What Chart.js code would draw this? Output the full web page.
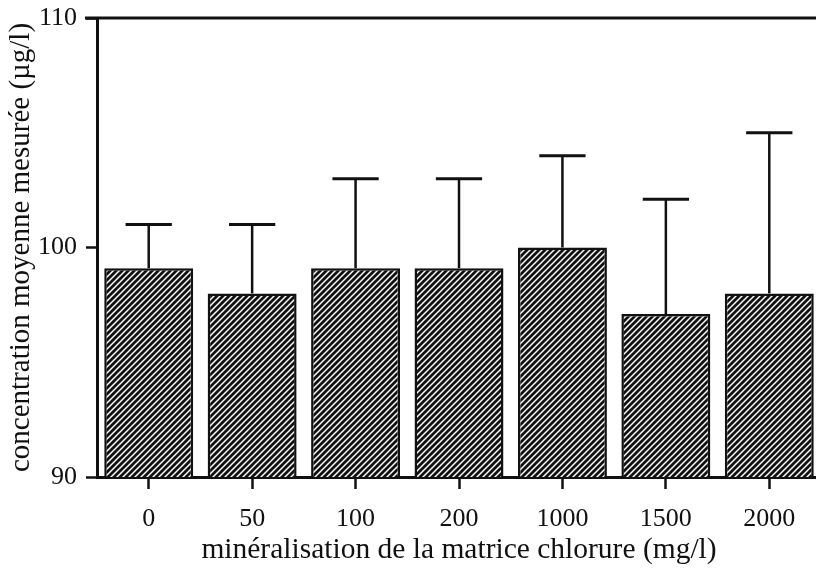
<!DOCTYPE html>
<html>
<head>
<meta charset="utf-8">
<script src="https://cdn.jsdelivr.net/npm/chart.js@4/dist/chart.umd.min.js"></script>
<style>
  html, body { margin: 0; padding: 0; background: #fff; overflow: hidden; }
  #wrap { width: 821px; height: 568px; }
</style>
</head>
<body>
<div id="wrap"><canvas id="myChart"></canvas></div>
<script>
// chloride matrix levels (mg/l)
const labels = ['0', '50', '100', '200', '1000', '1500', '2000'];
// mean measured concentration (µg/l)
const means = [99.1, 98.0, 99.1, 99.1, 100.0, 97.1, 98.0];
// upper error bar length
const errors = [1.9, 3.0, 3.9, 3.9, 4.0, 5.0, 7.0];
const yTicks = [90, 100, 110];

const INK = '#111';
const FONT = 'Liberation Serif';

function hatch(ctx) {
  const s = 6;
  const c = document.createElement('canvas');
  c.width = s; c.height = s;
  const g = c.getContext('2d');
  g.fillStyle = INK;
  g.fillRect(0, 0, s, s);
  g.strokeStyle = '#fff';
  g.lineWidth = 1.5;
  g.beginPath();
  g.moveTo(0, s); g.lineTo(s, 0);
  g.moveTo(-1, 1); g.lineTo(1, -1);
  g.moveTo(s - 1, s + 1); g.lineTo(s + 1, s - 1);
  g.stroke();
  return ctx.createPattern(c, 'repeat');
}

// one-sided (upward) error bars
const errorBars = {
  id: 'errorBars',
  afterDatasetsDraw(chart) {
    const ctx = chart.ctx;
    const y = chart.scales.y;
    const meta = chart.getDatasetMeta(0);
    ctx.save();
    ctx.strokeStyle = INK;
    meta.data.forEach((bar, i) => {
      const top = y.getPixelForValue(means[i] + errors[i]);
      const half = bar.width * 0.26;
      ctx.lineWidth = 2.5;
      ctx.beginPath();
      ctx.moveTo(bar.x, bar.y);
      ctx.lineTo(bar.x, top);
      ctx.stroke();
      ctx.lineWidth = 3;
      ctx.beginPath();
      ctx.moveTo(bar.x - half, top);
      ctx.lineTo(bar.x + half, top);
      ctx.stroke();
    });
    ctx.restore();
  }
};

// top frame line at the max of the y axis
const topLine = {
  id: 'topLine',
  afterDraw(chart) {
    const ctx = chart.ctx;
    const area = chart.chartArea;
    const py = chart.scales.y.getPixelForValue(yTicks[yTicks.length - 1]);
    ctx.save();
    ctx.strokeStyle = INK;
    ctx.lineWidth = 3;
    ctx.beginPath();
    ctx.moveTo(area.left - 12, py);
    ctx.lineTo(area.right, py);
    ctx.stroke();
    ctx.restore();
  }
};

const ctx = document.getElementById('myChart').getContext('2d');
new Chart(ctx, {
  type: 'bar',
  data: {
    labels: labels,
    datasets: [{
      data: means,
      backgroundColor: hatch(ctx),
      borderColor: INK,
      borderWidth: 2.5,
      barPercentage: 0.86,
      categoryPercentage: 1.0
    }]
  },
  options: {
    responsive: true,
    maintainAspectRatio: false,
    animation: false,
    layout: { padding: { top: 18, right: 0, bottom: 0, left: 0 } },
    plugins: { legend: { display: false }, tooltip: { enabled: false } },
    scales: {
      x: {
        grid: { display: true, drawOnChartArea: false, offset: false, tickLength: 12, tickWidth: 2.5, tickColor: INK },
        border: { display: true, color: INK, width: 3 },
        ticks: { color: INK, font: { family: FONT, size: 26 }, padding: 15, maxRotation: 0 },
        title: {
          display: true,
          text: 'minéralisation de la matrice chlorure (mg/l)',
          color: INK,
          font: { family: FONT, size: 29.5 },
          padding: { top: 0, bottom: 0 }
        },
        afterFit(s) { s.height = 91; s.paddingLeft = 0; s.paddingRight = 0; }
      },
      y: {
        min: 90,
        max: 110,
        afterBuildTicks(s) { s.ticks = yTicks.map(v => ({ value: v })); },
        grid: { drawOnChartArea: false, tickLength: 11, tickWidth: 2.5, tickColor: INK },
        border: { display: true, color: INK, width: 3 },
        ticks: { color: INK, font: { family: FONT, size: 26 }, padding: 9 },
        title: {
          display: true,
          text: 'concentration moyenne mesurée (µg/l)',
          color: INK,
          font: { family: FONT, size: 29 },
          padding: { top: 4, bottom: 0 }
        },
        afterFit(s) { s.width = 97; s.paddingTop = 0; s.paddingBottom = 0; }
      }
    }
  },
  plugins: [errorBars, topLine]
});
</script>
</body>
</html>
